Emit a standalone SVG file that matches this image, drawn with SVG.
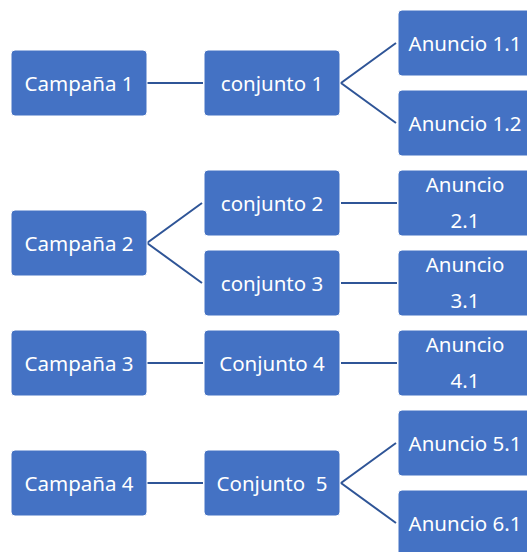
<svg xmlns="http://www.w3.org/2000/svg" width="527" height="552" viewBox="0 0 527 552">
<style>
.box{fill:#4472C4;stroke:#ffffff;stroke-width:1}
.t{font-family:"Noto Sans","Open Sans",sans-serif;font-size:20.5px;fill:#ffffff;text-anchor:middle;white-space:pre}
.c{stroke:#2F5597;stroke-width:2;fill:none}
</style>
<rect width="527" height="552" fill="#ffffff"/>
<g id="connectors">
<line class="c" x1="147" y1="83" x2="203" y2="83"/>
<polyline class="c" points="396,43 341,83 396,123"/>
<polyline class="c" points="202,203 147,243 202,283"/>
<line class="c" x1="341" y1="203" x2="397" y2="203"/>
<line class="c" x1="341" y1="283" x2="397" y2="283"/>
<line class="c" x1="147" y1="363" x2="203" y2="363"/>
<line class="c" x1="341" y1="363" x2="397" y2="363"/>
<line class="c" x1="147" y1="483" x2="203" y2="483"/>
<polyline class="c" points="396,443 341,483 396,523"/>
</g>
<g id="campana1"><rect class="box" x="11" y="50" width="136" height="66" rx="4"/><text class="t" x="79" y="91">Campaña 1</text></g>
<g id="campana2"><rect class="box" x="11" y="210" width="136" height="66" rx="4"/><text class="t" x="79" y="251">Campaña 2</text></g>
<g id="campana3"><rect class="box" x="11" y="330" width="136" height="66" rx="4"/><text class="t" x="79" y="371">Campaña 3</text></g>
<g id="campana4"><rect class="box" x="11" y="450" width="136" height="66" rx="4"/><text class="t" x="79" y="491">Campaña 4</text></g>
<g id="conjunto1"><rect class="box" x="204" y="50" width="136" height="66" rx="4"/><text class="t" x="272" y="91">conjunto 1</text></g>
<g id="conjunto2"><rect class="box" x="204" y="170" width="136" height="66" rx="4"/><text class="t" x="272" y="211">conjunto 2</text></g>
<g id="conjunto3"><rect class="box" x="204" y="250" width="136" height="66" rx="4"/><text class="t" x="272" y="291">conjunto 3</text></g>
<g id="conjunto4"><rect class="box" x="204" y="330" width="136" height="66" rx="4"/><text class="t" x="272" y="371">Conjunto 4</text></g>
<g id="conjunto5"><rect class="box" x="204" y="450" width="136" height="66" rx="4"/><text class="t" x="272" y="491">Conjunto  5</text></g>
<g id="anuncio11"><rect class="box" x="398" y="10" width="136" height="66" rx="4"/><text class="t" x="465" y="51">Anuncio 1.1</text></g>
<g id="anuncio12"><rect class="box" x="398" y="90" width="136" height="66" rx="4"/><text class="t" x="465" y="131">Anuncio 1.2</text></g>
<g id="anuncio21"><rect class="box" x="398" y="170" width="136" height="66" rx="4"/><text class="t" x="465" y="192">Anuncio</text><text class="t" x="465" y="228">2.1</text></g>
<g id="anuncio31"><rect class="box" x="398" y="250" width="136" height="66" rx="4"/><text class="t" x="465" y="272">Anuncio</text><text class="t" x="465" y="308">3.1</text></g>
<g id="anuncio41"><rect class="box" x="398" y="330" width="136" height="66" rx="4"/><text class="t" x="465" y="352">Anuncio</text><text class="t" x="465" y="388">4.1</text></g>
<g id="anuncio51"><rect class="box" x="398" y="410" width="136" height="66" rx="4"/><text class="t" x="465" y="451">Anuncio 5.1</text></g>
<g id="anuncio61"><rect class="box" x="398" y="490" width="136" height="66" rx="4"/><text class="t" x="465" y="531">Anuncio 6.1</text></g>
</svg>
